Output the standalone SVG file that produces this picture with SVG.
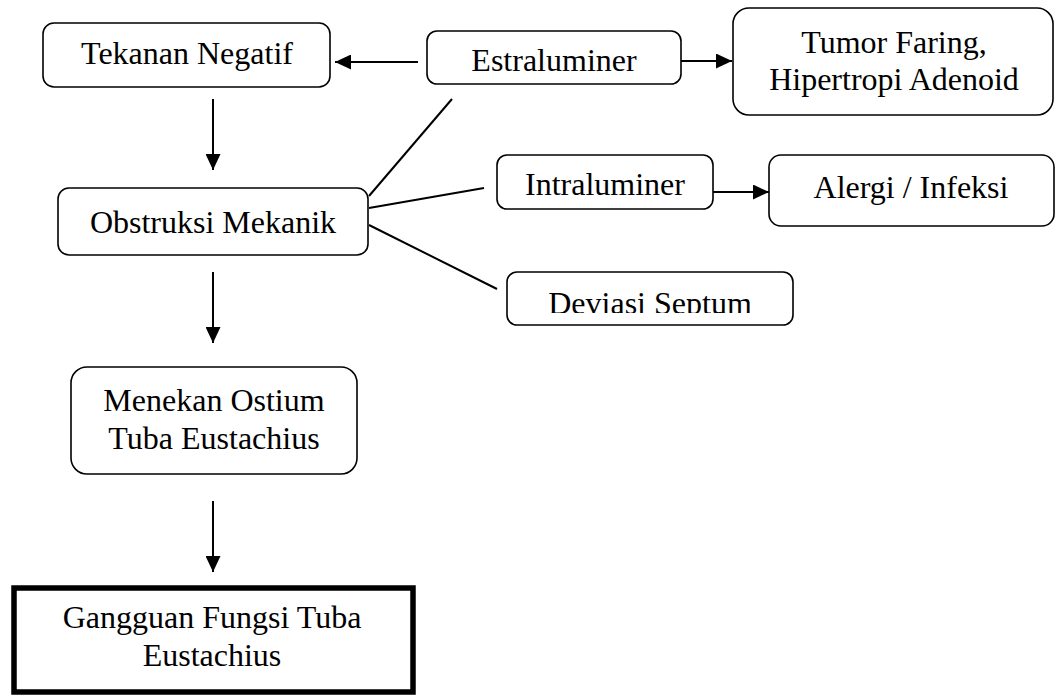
<svg xmlns="http://www.w3.org/2000/svg" width="1055" height="695" viewBox="0 0 1055 695">
<style>
.box{fill:#fff;stroke:#000;stroke-width:1.6}
.t{font-family:"Liberation Serif","Times New Roman",serif;font-size:32px;fill:#000;text-anchor:middle}
.c{stroke:#000;stroke-width:2;fill:none}
</style>
<defs>
<marker id="ah" markerUnits="userSpaceOnUse" markerWidth="16" markerHeight="15" refX="16" refY="7.5" orient="auto">
<path d="M0,0 L16,7.5 L0,15 z" fill="#000"/>
</marker>
<clipPath id="clipDev"><rect x="500" y="265" width="300" height="48"/></clipPath>
</defs>
<rect width="1055" height="695" fill="#fff"/>
<g id="connectors">
<line class="c" x1="418" y1="62" x2="335" y2="62" marker-end="url(#ah)"/>
<line class="c" x1="681" y1="61" x2="732" y2="61" marker-end="url(#ah)"/>
<line class="c" x1="713" y1="192" x2="769" y2="192" marker-end="url(#ah)"/>
<line class="c" x1="213" y1="99" x2="213" y2="170" marker-end="url(#ah)"/>
<line class="c" x1="213" y1="272" x2="213" y2="343" marker-end="url(#ah)"/>
<line class="c" x1="213" y1="501" x2="213" y2="572" marker-end="url(#ah)"/>
<line class="c" x1="452" y1="99" x2="369" y2="196"/>
<line class="c" x1="369" y1="208" x2="484" y2="188"/>
<line class="c" x1="369" y1="225" x2="497" y2="289"/>
</g>
<g id="tekanan">
<rect class="box" x="43" y="23" width="287" height="64" rx="11"/>
<text class="t" x="187" y="64">Tekanan Negatif</text>
</g>
<g id="estraluminer">
<rect class="box" x="427" y="31" width="254" height="53" rx="10"/>
<text class="t" x="554" y="71">Estraluminer</text>
</g>
<g id="tumor">
<rect class="box" x="733" y="8" width="320" height="107" rx="16"/>
<text class="t" x="894" y="53">Tumor Faring,</text>
<text class="t" x="894" y="90">Hipertropi Adenoid</text>
</g>
<g id="obstruksi">
<rect class="box" x="58" y="188" width="310" height="67" rx="11"/>
<text class="t" x="213" y="233">Obstruksi Mekanik</text>
</g>
<g id="intraluminer">
<rect class="box" x="497" y="155" width="216" height="54" rx="10"/>
<text class="t" x="605" y="195">Intraluminer</text>
</g>
<g id="alergi">
<rect class="box" x="769" y="155" width="285" height="71" rx="12"/>
<text class="t" x="911" y="198">Alergi / Infeksi</text>
</g>
<g id="deviasi">
<rect class="box" x="507" y="272" width="286" height="53" rx="10"/>
<text class="t" x="650" y="314" clip-path="url(#clipDev)">Deviasi Septum</text>
</g>
<g id="menekan">
<rect class="box" x="71" y="367" width="286" height="107" rx="16"/>
<text class="t" x="214" y="411">Menekan Ostium</text>
<text class="t" x="214" y="449">Tuba Eustachius</text>
</g>
<g id="gangguan">
<rect x="14" y="588" width="399" height="104" fill="#fff" stroke="#000" stroke-width="5.5"/>
<text class="t" x="212" y="628">Gangguan Fungsi Tuba</text>
<text class="t" x="212" y="666">Eustachius</text>
</g>
</svg>
